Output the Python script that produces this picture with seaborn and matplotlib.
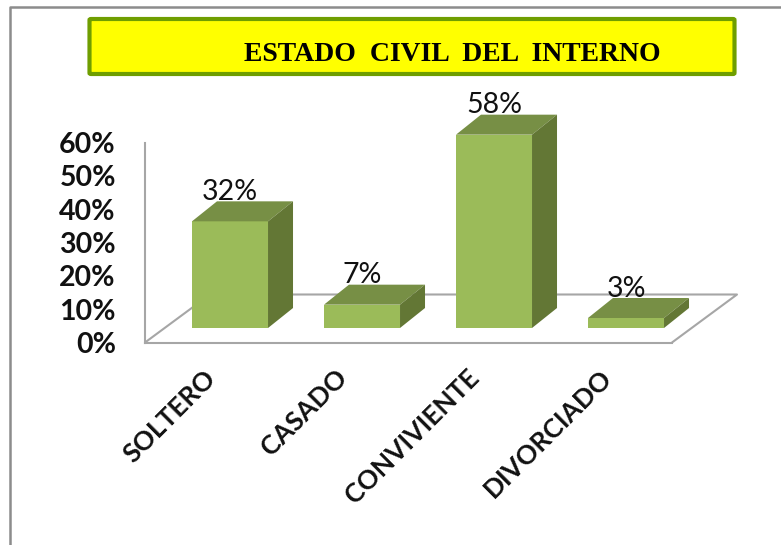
import pandas as pd
import seaborn as sns
import matplotlib.pyplot as plt
from matplotlib.patches import Polygon, FancyBboxPatch
from matplotlib.transforms import ScaledTranslation

categories = ["SOLTERO", "CASADO", "CONVIVIENTE", "DIVORCIADO"]
values = [32, 7, 58, 3]
y_ticks = [0, 10, 20, 30, 40, 50, 60]

W, H = 781, 545
FRONT = "#9BBB59"
TOP = "#778F45"
SIDE = "#637735"
GRID = "#A6A6A6"


# pixel box (top-left origin) to figure fractions
def box(x0, y0, x1, y1):
    return [x0 / W, 1 - y1 / H, (x1 - x0) / W, (y1 - y0) / H]


sns.set_theme(style="white")
plt.rcParams["font.family"] = ["Lato", "DejaVu Sans"]

fig = plt.figure(figsize=(W / 100, H / 100), dpi=100, facecolor="white")

# outer frame
fig.add_artist(plt.Line2D([9.5 / W, 9.5 / W, 1], [0, 1 - 6.5 / H, 1 - 6.5 / H], color="#8C8C8C", lw=1.8))

# title box
fig.add_artist(FancyBboxPatch((89.5 / W, 1 - 74 / H), 645 / W, 55 / H, transform=fig.transFigure,
                              boxstyle="round,pad=0,rounding_size=0.002",
                              facecolor="#FFFF00", edgecolor="#6F9E00", lw=3))
fig.text(452 / W, 1 - 54.5 / H, "ESTADO  CIVIL  DEL  INTERNO", family="Liberation Serif", weight="bold",
         fontsize=20, color="black", ha="center", va="center")

# wall and floor of the 3d box
wall = fig.add_axes(box(145, 142.5, 672, 342.5))
wall.set_facecolor("none")
wall.set_xlim(0, 1)
wall.set_ylim(0, 60)
wall.set_xticks([])
wall.set_yticks(y_ticks, [f"{t}%" for t in y_ticks], fontsize=20.5, fontweight="bold", color="#111111")
wall.tick_params(axis="y", length=0, pad=21)
for name in ["top", "right"]:
    wall.spines[name].set_visible(False)
for name in ["left", "bottom"]:
    wall.spines[name].set_color(GRID)
    wall.spines[name].set_linewidth(1.5)
depth_x, depth_y = 65 / 527, 48 / 200
wall.plot([0, depth_x, 1 + depth_x, 1], [0, depth_y, depth_y, 0], color=GRID, lw=1.5,
          transform=wall.transAxes, clip_on=False)

# bars, front faces through seaborn
ax = fig.add_axes(box(164, 128, 692, 328))
ax.patch.set_alpha(0)
df = pd.DataFrame({"estado": categories, "valor": values})
sns.barplot(data=df, x="estado", y="valor", color=FRONT, saturation=1, width=0.576, linewidth=0, ax=ax, zorder=3)
ax.set_xlim(-0.5, 3.5)
ax.set_ylim(0, 60)
ax.set_xlabel("")
ax.set_ylabel("")
ax.set_yticks([])
sns.despine(ax=ax, left=True, bottom=True)

half = 0.576 / 2
dx, dy = 25 / 132, 20 / (200 / 60)
for i, v in enumerate(values):
    # top and side faces follow from the value
    ax.add_patch(Polygon([(i - half, v), (i + half, v), (i + half + dx, v + dy), (i - half + dx, v + dy)],
                         facecolor=TOP, edgecolor="none", clip_on=False, zorder=3))
    ax.add_patch(Polygon([(i + half, 0), (i + half + dx, dy), (i + half + dx, v + dy), (i + half, v)],
                         facecolor=SIDE, edgecolor="none", clip_on=False, zorder=3))
    ax.text(i, v + dy + 0.4, f"{v}%", ha="center", va="baseline", fontsize=20.5, color="#111111", zorder=4)

ax.tick_params(axis="x", length=0, pad=27)
shift = ScaledTranslation(-27 / 100, 0, fig.dpi_scale_trans)
for lab in ax.get_xticklabels():
    lab.set_rotation(45)
    lab.set_ha("right")
    lab.set_rotation_mode("anchor")
    lab.set_fontsize(19)
    lab.set_fontweight("bold")
    lab.set_color("#111111")
    lab.set_transform(lab.get_transform() + shift)

fig.savefig("out.png", dpi=100)
